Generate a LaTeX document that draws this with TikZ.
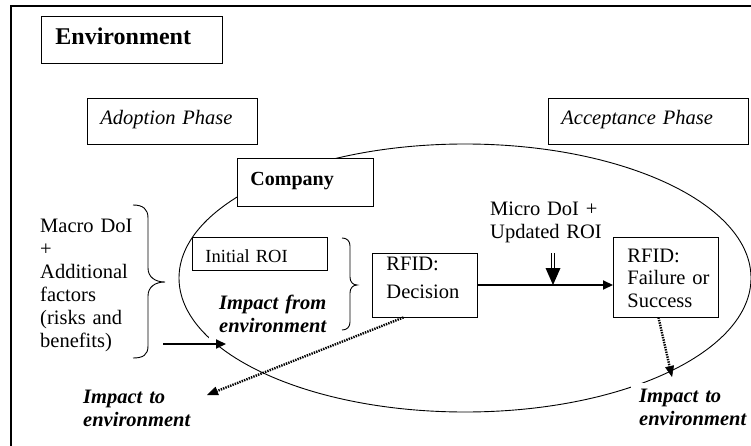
\documentclass[tikz,border=0pt]{standalone}
\usepackage{fontspec}
\setmainfont{Liberation Serif}
\usetikzlibrary{arrows.meta,calc}
\begin{document}
\begin{tikzpicture}[x=1pt,y=-1pt,
  txt/.style={font=\fontsize{20.5pt}{23pt}\selectfont, inner sep=0pt, anchor=base west, align=left},
  bxd/.style={draw, line width=0.9pt, fill=white, inner ysep=0pt, anchor=base west, align=left, font=\fontsize{20.5pt}{23pt}\selectfont},
  bi/.style={font=\fontsize{20.5pt}{23pt}\selectfont\bfseries\itshape},
  thickarrow/.style={line width=2pt, -{Triangle[length=10pt,width=9pt]}},
  dottedarrow/.style={line width=2.4pt, dash pattern=on 1.4pt off 1.1pt, -{Triangle[length=11pt,width=9pt,line width=0.5pt]}},
  bracepath/.style={line width=0.9pt},
]
\useasboundingbox (0,0) rectangle (751,446);
\clip (0,0) rectangle (751,446);
\fill[white] (0,0) rectangle (751,446);
% outer frame (environment)
\draw[line width=1.2pt] (11,6) rectangle (790,490);
% company ellipse
\draw[line width=0.9pt] (465,278) ellipse [x radius=286pt, y radius=134pt];

% boxes
\node[bxd, font=\fontsize{24pt}{28pt}\selectfont\bfseries, text width=153pt, inner xsep=14pt, text height=29pt, text depth=18pt] (env) at (41,45) {Environment};
\node[bxd, font=\fontsize{20.5pt}{23pt}\selectfont\itshape, text width=144pt, inner xsep=13pt, text height=27pt, text depth=19pt] (adopt) at (87,125) {Adoption Phase};
\node[bxd, font=\fontsize{20.5pt}{23pt}\selectfont\itshape, text width=174pt, inner xsep=13pt, text height=27pt, text depth=19pt] (accept) at (548,125) {Acceptance Phase};
\node[bxd, font=\fontsize{20pt}{23pt}\selectfont\bfseries, text width=110pt, inner xsep=13pt, text height=28pt, text depth=20pt] (company) at (237,186) {Company};
\node[bxd, font=\fontsize{18.5pt}{22pt}\selectfont, text width=109pt, inner xsep=13pt, text height=25pt, text depth=8pt] (iroi) at (192,262) {Initial ROI};
\node[bxd, text width=77pt, inner xsep=14pt, text height=17pt, text depth=47pt] (dec) at (372,270) {RFID:\\[5pt]Decision};
\node[bxd, text width=77pt, inner xsep=14pt, text height=25pt, text depth=55pt] (fail) at (613,262) {RFID:\\[-1pt]Failure~or\\Success};

% free texts
\node[txt, text width=100pt] (macro) at (40,232) {Macro DoI\\+\\Additional\\factors\\(risks and\\benefits)};
\node[txt, text width=115pt] (micro) at (490,215) {Micro DoI +\\Updated ROI};
\node[txt, bi, text width=108pt, fill=white, inner xsep=10pt, inner ysep=11pt] (ifrom) at (209,309) {Impact from\\environment};
\node[txt, bi, text width=110pt] (itoA) at (83,403) {Impact to\\environment};
\node[txt, bi, text width=112pt, fill=white, inner xsep=8pt, inner ysep=6pt] (itoB) at (631,402) {Impact to\\environment};

% braces
\draw[bracepath] (133,205) .. controls (143,205) and (148,209) .. (148,218) -- (148,268)
  .. controls (148,277) and (155,282) .. (165,282)
  .. controls (155,282) and (148,287) .. (148,296) -- (148,346)
  .. controls (148,355) and (143,358) .. (133,358);
\draw[bracepath] (342,238) .. controls (347,238) and (350,241) .. (350,246) -- (350,277)
  .. controls (350,282) and (353,285) .. (357,285)
  .. controls (353,285) and (350,288) .. (350,293) -- (350,322)
  .. controls (350,327) and (347,330) .. (342,330);

% connectors
\draw[thickarrow] (dec.east) -- (dec.east -| fail.west);
\coordinate (mtop) at (553,253);
\coordinate (mneck) at (553,268);
\coordinate (mtip) at (dec.east -| mtop);
\draw[line width=1pt, double, double distance=1.6pt] (mtop) -- (mneck);
\fill ([xshift=-7.5pt]mneck) -- ([xshift=7.5pt]mneck) -- (mtip) -- cycle;

\coordinate (s1) at (163,344);
\coordinate (s2) at (226,344);
\draw[thickarrow] (s1) -- (s2);

\coordinate (tA) at (207,395);
\coordinate (tB) at (672,377);
\draw[dottedarrow] ([xshift=-21.5pt]dec.south) -- (tA);
\draw[dottedarrow] ([xshift=-7.5pt]fail.south) -- (tB);
\end{tikzpicture}
\end{document}
